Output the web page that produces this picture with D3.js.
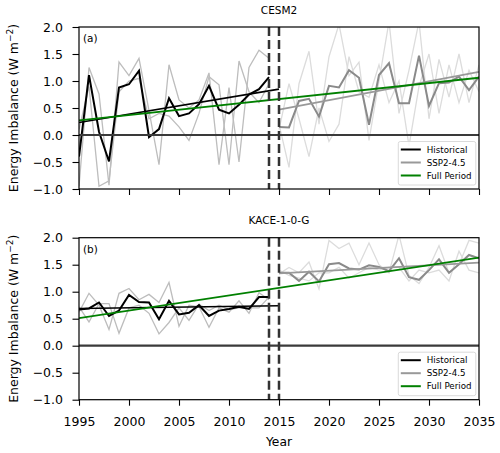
<!DOCTYPE html>
<html><head><meta charset="utf-8">
<script src="https://cdn.jsdelivr.net/npm/d3@7"></script>
<style>body{margin:0;background:#fff}svg{font-family:"DejaVu Sans",sans-serif}</style>
</head><body><svg id="c" width="500" height="453"></svg>
<script>
const histYears = d3.range(1995, 2015);
const sspYears = d3.range(2015, 2036);
const xTicks = [1995, 2000, 2005, 2010, 2015, 2020, 2025, 2030, 2035];
const yTicks = [-1.0, -0.5, 0.0, 0.5, 1.0, 1.5, 2.0];

// Panel (a) CESM2
const cesmHistMean = [-0.4, 1.11, 0.06, -0.49, 0.88, 0.94, 1.19, -0.04, 0.11, 0.68, 0.35, 0.4, 0.57, 0.91, 0.47, 0.4, 0.56, 0.75, 0.85, 1.07];
const cesmHistA = [-0.95, 1.25, 0.76, -0.93, 1.35, 1.1, 1.42, 0.45, -0.55, 1.3, 0.65, 0.5, 0.65, 1.15, -0.55, 0.88, -0.5, 1.25, 1.57, 1.42];
const cesmHistB = [0.1, 0.9, -0.95, -0.85, 0.8, 1.0, 1.05, 0.3, 0.4, 0.35, 0.15, -0.1, 0.4, 1.08, 0.93, -0.55, 1.37, 0.8, 0.6, 0.95];
const cesmSspMean = [0.15, 0.14, 0.63, 0.67, 0.34, 0.91, 0.88, 1.2, 1.06, 0.19, 1.11, 1.33, 0.59, 0.59, 1.47, 0.54, 0.96, 0.97, 1.08, 0.83, 1.08];
const cesmSspA = [0.2, -0.6, 0.95, 1.55, 0.2, 1.45, 2.05, 1.1, 1.35, -0.1, 1.0, 2.1, 0.4, 1.2, 2.1, 0.3, 1.4, 0.7, 1.5, 0.6, 1.3];
const cesmSspB = [0.1, 0.95, 0.3, -0.4, 0.5, -0.12, 0.2, 1.45, 0.8, 0.7, 1.3, 0.6, 1.0, -0.2, 0.9, 1.5, 0.4, 1.3, 0.6, 1.2, 0.8];
const cesmHistTrend = [0.23, 0.85];   // 1995 -> 2015
const cesmSspTrend = [0.47, 1.17];    // 2015 -> 2035
const cesmFullTrend = [0.27, 1.06];   // 1995 -> 2035

// Panel (b) KACE-1-0-G
const kaceHistMean = [0.67, 0.69, 0.8, 0.55, 0.65, 0.94, 0.81, 0.8, 0.49, 0.83, 0.58, 0.61, 0.75, 0.55, 0.65, 0.68, 0.72, 0.68, 0.9, 0.9];
const kaceHistA = [0.62, 0.97, 0.75, 0.3, 0.97, 1.06, 0.85, 0.95, 0.8, 1.17, 0.36, 0.75, 0.72, 0.34, 0.7, 0.62, 0.83, 0.6, 0.98, 0.85];
const kaceHistB = [0.72, 0.44, 0.78, 0.78, 0.23, 0.7, 0.75, 0.6, 0.22, 0.43, 0.7, 0.47, 0.77, 0.65, 0.75, 0.67, 0.7, 0.7, 0.7, 0.9];
const kaceSspMean = [1.35, 1.35, 1.2, 1.37, 1.19, 1.51, 1.53, 1.43, 1.41, 1.49, 1.46, 1.38, 1.62, 1.27, 1.22, 1.4, 1.6, 1.35, 1.51, 1.68, 1.62];
const kaceSspA = [1.33, 1.45, 1.35, 1.55, 1.05, 1.95, 1.8, 1.9, 1.5, 1.9, 1.5, 1.35, 2.05, 1.3, 1.15, 1.45, 1.85, 1.35, 1.5, 1.95, 1.9];
const kaceSspB = [1.4, 1.3, 1.25, 1.2, 1.35, 1.35, 1.45, 1.25, 1.35, 1.45, 1.4, 1.45, 1.45, 1.2, 1.4, 1.35, 1.4, 1.2, 1.75, 1.4, 1.35];
const kaceHistTrend = [0.69, 0.74];
const kaceSspTrend = [1.34, 1.54];
const kaceFullTrend = [0.51, 1.63];

const titles = ["CESM2", "KACE-1-0-G"];
const labels = ["(a)", "(b)"];
const legendNames = ["Historical", "SSP2-4.5", "Full Period"];
const legendColors = ["#000000", "#999999", "#008000"];

const panels = [
  {top: 27, histMean: cesmHistMean, hist: [cesmHistA, cesmHistB], sspMean: cesmSspMean, ssp: [cesmSspA, cesmSspB],
   ht: cesmHistTrend, st: cesmSspTrend, ft: cesmFullTrend, showX: false},
  {top: 237.7, histMean: kaceHistMean, hist: [kaceHistA, kaceHistB], sspMean: kaceSspMean, ssp: [kaceSspA, kaceSspB],
   ht: kaceHistTrend, st: kaceSspTrend, ft: kaceFullTrend, showX: true}
];

const svg = d3.select("#c");
const left = 79, right = 479, ph = 162;
const x = d3.scaleLinear().domain([1995, 2035]).range([left, right]);

panels.forEach((p, i) => {
  const y = d3.scaleLinear().domain([-1, 2]).range([p.top + ph, p.top]);
  const g = svg.append("g");
  const cid = "clip" + i;
  svg.append("defs").append("clipPath").attr("id", cid).append("rect")
    .attr("x", left).attr("y", p.top).attr("width", right - left).attr("height", ph);
  const pg = g.append("g").attr("clip-path", `url(#${cid})`);
  const line = (years) => d3.line().x((d, j) => x(years[j])).y(d => y(d));

  p.ssp.forEach(s => pg.append("path").datum(s).attr("d", line(sspYears))
    .attr("fill", "none").attr("stroke", "#dcdcdc").attr("stroke-width", 1.3));
  p.hist.forEach(s => pg.append("path").datum(s).attr("d", line(histYears))
    .attr("fill", "none").attr("stroke", "#bdbdbd").attr("stroke-width", 1.3));
  pg.append("path").datum(p.sspMean).attr("d", line(sspYears))
    .attr("fill", "none").attr("stroke", "#8a8a8a").attr("stroke-width", 2);
  pg.append("path").datum(p.histMean).attr("d", line(histYears))
    .attr("fill", "none").attr("stroke", "#000").attr("stroke-width", 2);
  const seg = (yrs, vals, color, w) => pg.append("line")
    .attr("x1", x(yrs[0])).attr("x2", x(yrs[1])).attr("y1", y(vals[0])).attr("y2", y(vals[1]))
    .attr("stroke", color).attr("stroke-width", w);
  seg([1995, 2015], p.ht, "#000", 1.6);
  seg([2015, 2035], p.st, "#999", 1.8);
  seg([1995, 2035], p.ft, "#008000", 1.8);
  pg.append("line").attr("x1", left).attr("x2", right).attr("y1", y(0)).attr("y2", y(0))
    .attr("stroke", "#3a3a3a").attr("stroke-width", 2.2);
  [2014, 2015].forEach(yr => g.append("line").attr("x1", x(yr)).attr("x2", x(yr))
    .attr("y1", p.top).attr("y2", p.top + ph).attr("stroke", "#333").attr("stroke-width", 2.5)
    .attr("stroke-dasharray", "9,4"));

  const ya = g.append("g").attr("transform", `translate(${left},0)`)
    .call(d3.axisLeft(y).tickValues(yTicks).tickFormat(d => d3.format(".1f")(d).replace("-", "\u2212")).tickSizeOuter(0).tickSize(6.5));
  const xa = g.append("g").attr("transform", `translate(0,${p.top + ph})`)
    .call(d3.axisBottom(x).tickValues(xTicks).tickFormat(p.showX ? d3.format("d") : () => "").tickSizeOuter(0).tickSize(6));
  [ya, xa].forEach(a => {
    a.select(".domain").remove();
    a.selectAll("line").attr("stroke", "#000").attr("stroke-width", 1.1);
    a.selectAll("text").attr("font-size", 12.5).attr("fill", "#000").attr("font-family", "DejaVu Sans");
  });
  ya.selectAll("text").attr("x", -16);
  xa.selectAll("text").attr("y", 17);
  g.append("rect").attr("x", left).attr("y", p.top).attr("width", right - left).attr("height", ph)
    .attr("fill", "none").attr("stroke", "#000").attr("stroke-width", 1.2);

  g.append("text").attr("x", (left + right) / 2).attr("y", p.top - 13.5).attr("text-anchor", "middle")
    .attr("font-size", 10.5).text(titles[i]);
  g.append("text").attr("x", left + 4).attr("y", p.top + 15).attr("font-size", 10.5).text(labels[i]);
  g.append("text").attr("transform", `translate(18,${p.top + ph / 2}) rotate(-90)`).attr("text-anchor", "middle")
    .attr("font-size", 12.5).html("Energy Imbalance (W m<tspan dy='-5' font-size='9'>\u22122</tspan><tspan dy='5'>)</tspan>");

  const lx = 398.3, ly = p.top + ph - 47.5;
  const lg = g.append("g");
  lg.append("rect").attr("x", lx).attr("y", ly).attr("width", 77.5).attr("height", 43.5).attr("rx", 2)
    .attr("fill", "#fff").attr("fill-opacity", 0.85).attr("stroke", "#d0d0d0").attr("stroke-width", 0.8);
  legendNames.forEach((n, k) => {
    const yy = ly + 8 + k * 13;
    lg.append("line").attr("x1", lx + 2.5).attr("x2", lx + 22.5).attr("y1", yy).attr("y2", yy)
      .attr("stroke", legendColors[k]).attr("stroke-width", 2);
    lg.append("text").attr("x", lx + 28.5).attr("y", yy + 3.2).attr("font-size", 8.7).text(n);
  });
});

svg.append("text").attr("x", (left + right) / 2).attr("y", 446).attr("text-anchor", "middle")
  .attr("font-size", 12.3).text("Year");
</script></body></html>
